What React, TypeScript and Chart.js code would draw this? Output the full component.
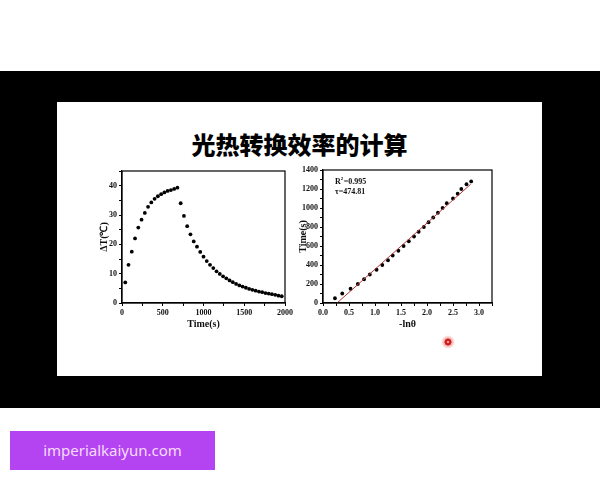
import React, { useEffect, useRef } from "react";
import { Chart, registerables } from "chart.js";
Chart.register(...registerables);

// ---- Data ----
const heatTime = [40, 80, 120, 160, 200, 240, 280, 320, 360, 400, 440, 480, 520, 560, 600, 640, 680];
const heatDT = [7, 13, 17.5, 22, 25.7, 28.4, 30.7, 32.8, 34.3, 35.5, 36.4, 37.1, 37.7, 38.2, 38.5, 38.9, 39.3];
const coolTime = [720, 760, 800, 840, 880, 920, 960, 1000, 1040, 1080, 1120, 1160, 1200, 1240, 1280, 1320, 1360, 1400, 1440, 1480, 1520, 1560, 1600, 1640, 1680, 1720, 1760, 1800, 1840, 1880, 1920, 1960];
const coolDT = [34, 29.7, 26.2, 23.4, 21, 19.2, 17.4, 15.8, 14.3, 13.0, 11.9, 10.8, 9.9, 9.1, 8.4, 7.7, 7.1, 6.5, 6.0, 5.6, 5.2, 4.8, 4.5, 4.2, 3.9, 3.7, 3.4, 3.2, 3.0, 2.8, 2.5, 2.3];

const negLnTheta = [0.23, 0.37, 0.53, 0.67, 0.79, 0.9, 1.03, 1.14, 1.25, 1.34, 1.45, 1.55, 1.65, 1.75, 1.84, 1.94, 2.03, 2.12, 2.21, 2.3, 2.38, 2.5, 2.59, 2.66, 2.76, 2.85];
const coolSeconds = [50, 100, 150, 200, 250, 300, 350, 400, 450, 500, 550, 600, 650, 700, 750, 800, 850, 900, 950, 1000, 1050, 1100, 1150, 1200, 1250, 1280];
const fitX = [0.27, 2.84];
const fitY = [0, 1250];

const leftXTicks = [0, 250, 500, 750, 1000, 1250, 1500, 1750, 2000];
const leftYTicks = [0, 5, 10, 15, 20, 25, 30, 35, 40, 45];
const rightXTicks = [0, 0.25, 0.5, 0.75, 1, 1.25, 1.5, 1.75, 2, 2.25, 2.5, 2.75, 3, 3.25];
const rightYTicks = [0, 100, 200, 300, 400, 500, 600, 700, 800, 900, 1000, 1100, 1200, 1300, 1400];

const pageTitle = "光热转换效率的计算";
const fitLabelR = "R";
const fitLabelRVal = "=0.995";
const fitLabelTau = "τ=474.81";

const SERIF = '"Liberation Serif", "Times New Roman", serif';

const frame = {
  id: "frame",
  afterDraw(chart: any) {
    const { ctx, chartArea: a } = chart;
    ctx.save();
    ctx.strokeStyle = "#000";
    ctx.lineWidth = 1.2;
    ctx.strokeRect(a.left, a.top, a.right - a.left, a.bottom - a.top);
    ctx.restore();
  },
};

function isLabel(v: number, every: number) {
  return Math.abs(v / every - Math.round(v / every)) < 1e-6;
}

function axis(ticks: number[], min: number, max: number, labelEvery: number, fmt: (v: number) => string, title: string, fixed: { w?: number; h?: number }) {
  return {
    type: "linear",
    min,
    max,
    afterBuildTicks: (s: any) => {
      s.ticks = ticks.map((v) => ({ value: v }));
    },
    afterFit: (s: any) => {
      if (fixed.w !== undefined) s.width = fixed.w;
      if (fixed.h !== undefined) s.height = fixed.h;
    },
    ticks: {
      autoSkip: false,
      maxRotation: 0,
      padding: 2,
      color: "#111",
      font: { family: SERIF, size: 8, weight: "bold" },
      callback: (v: number) => (isLabel(v, labelEvery) ? fmt(v) : ""),
    },
    grid: { display: true, drawOnChartArea: false, drawTicks: true, tickLength: 3, color: "#000", tickWidth: 1 },
    border: { display: true, color: "#000", width: 1.2 },
    title: { display: true, text: title, color: "#111", padding: 1, font: { family: SERIF, size: 10, weight: "bold" } },
  };
}

function LeftChart() {
  const ref = useRef<HTMLCanvasElement>(null);
  useEffect(() => {
    const heat = heatTime.map((t, i) => ({ x: t, y: heatDT[i] }));
    const cool = coolTime.map((t, i) => ({ x: t, y: coolDT[i] }));
    const chart = new Chart(ref.current!, {
      type: "scatter",
      data: {
        datasets: [
          { data: heat as any, pointRadius: 1.9, backgroundColor: "#000", borderWidth: 0 },
          { data: cool as any, pointRadius: 1.9, backgroundColor: "#000", borderWidth: 0 },
        ],
      },
      options: {
        animation: false,
        responsive: false,
        layout: { padding: { top: 11, right: 9, left: 7, bottom: 4 } },
        plugins: { legend: { display: false }, tooltip: { enabled: false } },
        scales: {
          x: axis(leftXTicks, 0, 2000, 500, (v) => String(v), "Time(s)", { h: 28 }) as any,
          y: axis(leftYTicks, 0, 45, 10, (v) => String(v), "ΔT(℃)", { w: 25 }) as any,
        },
      },
      plugins: [frame],
    });
    return () => chart.destroy();
  }, []);
  return <canvas ref={ref} width={205} height={175} style={{ position: "absolute", left: 90, top: 160, width: 205, height: 175 }} />;
}

function RightChart() {
  const ref = useRef<HTMLCanvasElement>(null);
  useEffect(() => {
    const pts = negLnTheta.map((x, i) => ({ x, y: coolSeconds[i] }));
    const fit = fitX.map((x, i) => ({ x, y: fitY[i] }));
    const textPlugin = {
      id: "fitText",
      afterDraw(chart: any) {
        const { ctx, chartArea: a } = chart;
        ctx.save();
        ctx.fillStyle = "#111";
        ctx.textBaseline = "alphabetic";
        ctx.font = `bold 8px ${SERIF}`;
        const x0 = a.left + 12;
        const y0 = a.top + 14;
        ctx.fillText(fitLabelR, x0, y0);
        const rw = ctx.measureText(fitLabelR).width;
        ctx.font = `bold 5px ${SERIF}`;
        ctx.fillText("2", x0 + rw, y0 - 4);
        ctx.font = `bold 8px ${SERIF}`;
        ctx.fillText(fitLabelRVal, x0 + rw + 3, y0);
        ctx.fillText(fitLabelTau, x0, y0 + 10);
        ctx.restore();
      },
    };
    const chart = new Chart(ref.current!, {
      type: "scatter",
      data: {
        datasets: [
          { data: fit as any, showLine: true, borderColor: "#b23a3a", borderWidth: 1, pointRadius: 0, fill: false },
          { data: pts as any, pointRadius: 1.9, backgroundColor: "#000", borderWidth: 0 },
        ],
      },
      options: {
        animation: false,
        responsive: false,
        layout: { padding: { top: 10, right: 8, left: 6, bottom: 4 } },
        plugins: { legend: { display: false }, tooltip: { enabled: false } },
        scales: {
          x: axis(rightXTicks, 0, 3.25, 0.5, (v) => v.toFixed(1), "-lnθ", { h: 28 }) as any,
          y: axis(rightYTicks, 0, 1400, 200, (v) => String(v), "Time(s)", { w: 27 }) as any,
        },
      },
      plugins: [frame, textPlugin],
    });
    return () => chart.destroy();
  }, []);
  return <canvas ref={ref} width={210} height={175} style={{ position: "absolute", left: 290, top: 160, width: 210, height: 175 }} />;
}

export default function App() {
  return (
    <div style={{ position: "absolute", left: 0, top: 0, width: 600, height: 480, background: "#fff", overflow: "hidden" }}>
      <div style={{ position: "absolute", left: 0, top: 71, width: 600, height: 337, background: "#000" }} />
      <div style={{ position: "absolute", left: 57, top: 102, width: 485, height: 274, background: "#fff" }} />
      <div
        style={{
          position: "absolute",
          left: 57,
          width: 485,
          top: 130,
          height: 28,
          textAlign: "center",
          fontFamily: '"Noto Sans CJK SC", sans-serif',
          fontWeight: 900,
          fontSize: 24,
          lineHeight: "28px",
          color: "#000",
        }}
      >
        {pageTitle}
      </div>
      <LeftChart />
      <RightChart />
      <div
        style={{
          position: "absolute",
          left: 441,
          top: 335,
          width: 14,
          height: 14,
          borderRadius: "50%",
          background: "radial-gradient(circle, #f4a0a0 0 1.2px, #d41e1e 1.6px 3.2px, rgba(240,110,110,0.55) 3.8px, rgba(255,200,200,0) 7px)",
        }}
      />
      <div
        style={{
          position: "absolute",
          left: 10,
          top: 431,
          width: 205,
          height: 39,
          background: "#b444f2",
          color: "#f4dcfb",
          fontFamily: '"Noto Sans", sans-serif',
          fontSize: 15,
          lineHeight: "39px",
          textAlign: "center",
        }}
      >
        imperialkaiyun.com
      </div>
    </div>
  );
}
